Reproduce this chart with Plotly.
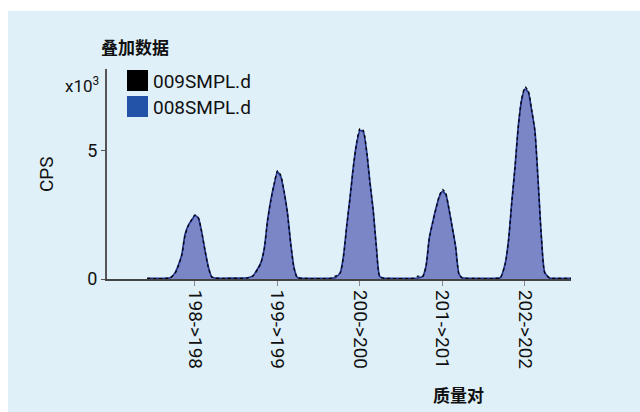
import plotly.graph_objects as go

# Mass-pair channels on the x axis
pairs = ["198->198", "199->199", "200->200", "201->201", "202->202"]

# Offsets (in channel units) at which each peak profile is sampled
offsets = [-0.36, -0.30, -0.24, -0.20, -0.16, -0.12, -0.08, -0.04, 0.0,
           0.04, 0.08, 0.12, 0.16, 0.20, 0.24, 0.30, 0.36]

# Intensity profiles (CPS) for sample 008SMPL.d, one list per mass pair
smpl008_198 = [30, 50, 250, 550, 950, 1750, 2100, 2300, 2480, 2380, 1850, 1150, 500, 100, 40, 30, 30]
smpl008_199 = [50, 120, 400, 650, 1200, 2300, 3100, 3700, 4180, 4000, 3400, 2600, 1400, 450, 60, 30, 30]
smpl008_200 = [30, 50, 250, 900, 2100, 3200, 4400, 5300, 5800, 5750, 5000, 3800, 2700, 1200, 100, 30, 30]
smpl008_201 = [30, 40, 100, 500, 1600, 2200, 2750, 3200, 3420, 3300, 2700, 2000, 1250, 200, 50, 30, 30]
smpl008_202 = [30, 50, 600, 1500, 3000, 4400, 6000, 7000, 7420, 7300, 6600, 5800, 3800, 1600, 250, 40, 30]

# Intensity profiles (CPS) for sample 009SMPL.d
smpl009_198 = [20, 40, 230, 530, 930, 1720, 2080, 2320, 2500, 2400, 1870, 1130, 480, 90, 30, 20, 20]
smpl009_199 = [40, 110, 380, 630, 1180, 2280, 3080, 3720, 4230, 4050, 3420, 2580, 1380, 430, 50, 20, 20]
smpl009_200 = [20, 110, 230, 880, 2080, 3180, 4380, 5330, 5880, 5800, 5020, 3780, 2680, 1180, 90, 20, 20]
smpl009_201 = [20, 110, 90, 480, 1580, 2180, 2730, 3230, 3500, 3350, 2720, 1980, 1230, 190, 40, 20, 20]
smpl009_202 = [20, 40, 580, 1480, 2980, 4380, 5980, 7030, 7500, 7350, 6620, 5780, 3780, 1580, 240, 30, 20]

# Flat baseline ends of the acquisition window
window_start, window_end = -0.58, 4.56
baseline_008, baseline_009 = 30, 20

y_ticks = [0, 5000]
y_tick_text = ["0", "5"]

BG = "#dff0f9"
FILL = "#7a86c6"
LINE_008 = "#23358f"
LEGEND_008 = "#2253a8"
TEXT = "#111111"


def trace_points(profiles, baseline):
    xs, ys = [window_start], [baseline]
    for i, prof in enumerate(profiles):
        for off, v in zip(offsets, prof):
            xs.append(i + off)
            ys.append(v)
    xs.append(window_end)
    ys.append(baseline)
    return xs, ys


x8, y8 = trace_points([smpl008_198, smpl008_199, smpl008_200, smpl008_201, smpl008_202], baseline_008)
x9, y9 = trace_points([smpl009_198, smpl009_199, smpl009_200, smpl009_201, smpl009_202], baseline_009)

W, H = 640, 412
ML, MR, MT, MB = 107, 69, 69, 133
PW, PH = W - ML - MR, H - MT - MB


def px(x):
    return (x - ML) / PW


def py(y):
    return (H - MB - y) / PH


fig = go.Figure()
fig.add_trace(go.Scatter(
    x=x8, y=y8, mode="lines", name="008SMPL.d", fill="tozeroy",
    fillcolor=FILL, line=dict(color=LINE_008, width=1.7, shape="spline", smoothing=0.6),
    showlegend=False,
))
fig.add_trace(go.Scatter(
    x=x9, y=y9, mode="lines", name="009SMPL.d",
    line=dict(color="#000000", width=1.3, dash="dot", shape="spline", smoothing=0.6),
    showlegend=False,
))

font_main = "Roboto, Arial, sans-serif"
font_cjk = "Noto Sans CJK SC, sans-serif"

shapes = [
    # light panel behind the chart
    dict(type="rect", xref="paper", yref="paper", layer="below",
         x0=px(8), x1=px(W + 2), y0=py(H + 2), y1=py(11),
         fillcolor=BG, line=dict(width=0)),
    # legend swatches
    dict(type="rect", xref="paper", yref="paper",
         x0=px(127), x1=px(148), y0=py(91), y1=py(70),
         fillcolor="#000000", line=dict(width=0)),
    dict(type="rect", xref="paper", yref="paper",
         x0=px(127), x1=px(148), y0=py(117), y1=py(96),
         fillcolor=LEGEND_008, line=dict(width=0)),
]


def label(text, x, y, size, family, xanchor="center", angle=0, weight="normal"):
    return dict(text=text, xref="paper", yref="paper", x=px(x), y=py(y),
                xanchor=xanchor, yanchor="middle", textangle=angle, showarrow=False,
                font=dict(family=family, size=size, color=TEXT, weight=weight))


annotations = [
    label("叠加数据", 135, 47, 17, font_cjk, weight="bold"),
    label("x10<sup>3</sup>", 101, 85, 17, font_main, xanchor="right"),
    label("CPS", 46, 174, 19, font_main, angle=-90),
    label("质量对", 458, 394, 17, font_cjk, weight="bold"),
    label("009SMPL.d", 151, 81, 19, font_main, xanchor="left"),
    label("008SMPL.d", 151, 107, 19, font_main, xanchor="left"),
]

fig.update_layout(
    width=W, height=H,
    margin=dict(l=ML, r=MR, t=MT, b=MB, pad=0),
    paper_bgcolor="white",
    plot_bgcolor="rgba(0,0,0,0)",
    shapes=shapes,
    annotations=annotations,
    showlegend=False,
    xaxis=dict(
        range=[-88 / 82.5, 4.558], tickmode="array",
        tickvals=list(range(len(pairs))), ticktext=pairs, tickangle=90,
        showgrid=False, zeroline=False, showline=True, linecolor="#444", linewidth=2,
        ticks="outside", ticklen=5, tickcolor="#888", tickwidth=1,
        tickfont=dict(family=font_main, size=19, color=TEXT),
    ),
    yaxis=dict(
        range=[0, 8200], tickmode="array", tickvals=y_ticks, ticktext=y_tick_text,
        showgrid=False, zeroline=False, showline=True, linecolor="#555", linewidth=2,
        ticks="outside", ticklen=4, tickcolor="#555", tickwidth=1,
        tickfont=dict(family=font_main, size=18, color=TEXT),
    ),
)

fig.write_html("out.html")
